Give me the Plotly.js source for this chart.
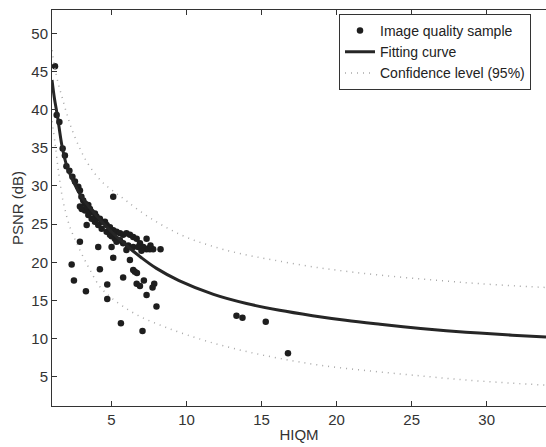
<!DOCTYPE html>
<html>
<head>
<meta charset="utf-8">
<script src="https://cdn.plot.ly/plotly-3.0.1.min.js"></script>
<style>html,body{margin:0;padding:0;background:#fff;}#chart{width:546px;height:447px;}</style>
</head>
<body>
<div id="chart"></div>
<script>
// Image quality samples (HIQM, PSNR)
const sampleX = [1.24,1.35,1.53,1.75,1.9,2.0,2.2,2.4,2.57,2.79,2.9,3.0,3.12,3.24,3.46,3.57,3.68,3.9,4.0,4.23,4.35,4.57,4.68,4.9,5.12,5.34,5.57,5.78,6.0,6.23,6.45,6.68,7.34,6.9,7.12,7.34,7.56,7.78,8.27,6.45,6.12,5.78,5.57,5.23,5.01,4.68,4.35,4.12,3.9,3.68,3.46,3.24,2.9,3.02,3.35,4.9,5.34,6.0,7.0,7.45,6.78,7.6,5.12,3.35,2.9,4.12,5.01,5.12,2.35,4.23,6.23,6.45,6.56,6.7,2.5,5.78,6.68,6.9,7.16,7.85,7.74,4.72,3.3,7.34,4.72,8.0,5.63,7.07,13.33,13.73,15.28,16.76];
const sampleY = [45.7,39.3,38.4,34.9,34.0,32.6,32.0,31.2,30.6,29.9,29.4,28.6,28.1,27.7,27.5,27.0,26.6,26.4,26.0,25.7,25.3,25.3,24.9,24.6,24.2,24.0,23.8,23.6,23.8,23.6,23.3,23.1,23.1,22.5,22.0,21.7,21.7,21.7,21.7,22.0,22.2,22.5,22.9,23.1,23.4,24.0,24.4,24.9,25.3,25.7,26.2,26.8,27.3,27.0,27.3,23.6,22.7,21.6,21.5,21.8,22.0,22.2,28.6,24.9,22.7,22.0,22.0,20.6,19.7,19.1,20.3,19.0,18.75,18.6,17.6,18.0,17.2,16.9,17.6,17.2,16.7,17.1,16.2,15.7,15.2,14.2,12.0,11.0,13.0,12.73,12.2,8.07];

// Fitting curve
const fitX = [1.04,1.2,1.4,1.7,2.0,2.5,3.0,3.5,4.0,5.0,6.0,7.0,8.0,9.5,11.8,14.0,16.2,18.4,20.6,22.9,25.1,27.3,29.5,31.7,33.95];
const fitY = [43.9,41.5,39.2,35.3,32.8,30.4,28.6,27.3,26.1,24.0,22.2,20.6,19.2,17.6,15.8,14.6,13.7,13.0,12.4,11.88,11.42,11.03,10.72,10.45,10.2];

// Confidence level (95%) bounds
const upperX = [1.04,1.2,1.46,1.69,2.02,2.35,2.9,3.35,3.9,4.45,5.2,5.9,6.9,8.0,9.0,10.1,11.55,13.44,15.77,18.43,21.1,24.0,26.9,29.5,32.85,33.95];
const upperY = [47.8,45.8,43.4,41.8,39.5,37.5,34.9,33.2,31.6,30.4,29.2,28.2,26.7,25.3,24.2,23.2,22.2,21.2,20.3,19.4,18.7,18.1,17.6,17.2,16.8,16.7];
const lowerX = [1.04,1.25,1.5,1.8,2.24,2.9,3.57,4.23,4.9,5.78,6.9,8.2,9.56,11.8,14.0,16.2,18.9,22.0,25.1,28.4,31.7,33.95];
const lowerY = [38.5,35.5,31.5,27.8,24.6,21.6,19.0,16.8,15.5,14.2,12.9,11.8,10.8,9.4,8.3,7.4,6.5,5.8,5.2,4.6,4.15,3.9];

const xTicks = [5,10,15,20,25,30];
const yTicks = [5,10,15,20,25,30,35,40,45,50];

const font = 'Liberation Sans, Arial, sans-serif';

const traces = [
  {x: sampleX, y: sampleY, type: 'scatter', mode: 'markers', name: 'Image quality sample',
   marker: {size: 6.5, color: '#1e1e1e'}},
  {x: fitX, y: fitY, type: 'scatter', mode: 'lines', name: 'Fitting curve',
   line: {color: '#262626', width: 3, shape: 'spline'}},
  {x: upperX, y: upperY, type: 'scatter', mode: 'lines', name: 'Confidence level (95%)',
   line: {color: '#a8a8a8', width: 1.5, dash: '1px,5px', shape: 'spline'}},
  {x: lowerX, y: lowerY, type: 'scatter', mode: 'lines', name: 'Confidence level (95%)', showlegend: false,
   line: {color: '#a8a8a8', width: 1.5, dash: '1px,5px', shape: 'spline'}}
];

const layout = {
  width: 546, height: 447,
  margin: {l: 52, r: 0, t: 10, b: 41},
  paper_bgcolor: '#fff', plot_bgcolor: '#fff',
  font: {family: font, size: 15, color: '#333'},
  showlegend: true,
  legend: {x: 0.581, y: 0.99, xanchor: 'left', yanchor: 'top',
    bgcolor: '#fff', bordercolor: '#333', borderwidth: 1,
    font: {family: font, size: 14, color: '#222'}, tracegroupgap: 0},
  xaxis: {range: [1.04, 33.95], tickvals: xTicks, ticktext: xTicks.map(String),
    ticks: 'inside', ticklen: 5, tickcolor: '#333', showline: true, linecolor: '#333', linewidth: 1,
    mirror: 'ticks', showgrid: false, zeroline: false,
    tickfont: {family: font, size: 15, color: '#333'},
    title: {text: 'HIQM', font: {family: font, size: 15, color: '#333'}, standoff: 2}},
  yaxis: {range: [1.16, 53.07], tickvals: yTicks, ticktext: yTicks.map(String),
    ticks: 'inside', ticklen: 5, tickcolor: '#333', showline: true, linecolor: '#333', linewidth: 1,
    mirror: false, showgrid: false, zeroline: false,
    tickfont: {family: font, size: 15, color: '#333'},
    title: {text: 'PSNR (dB)', font: {family: font, size: 15, color: '#333'}, standoff: 4}}
};

Plotly.newPlot('chart', traces, layout, {displayModeBar: false, staticPlot: true});
</script>
</body>
</html>
